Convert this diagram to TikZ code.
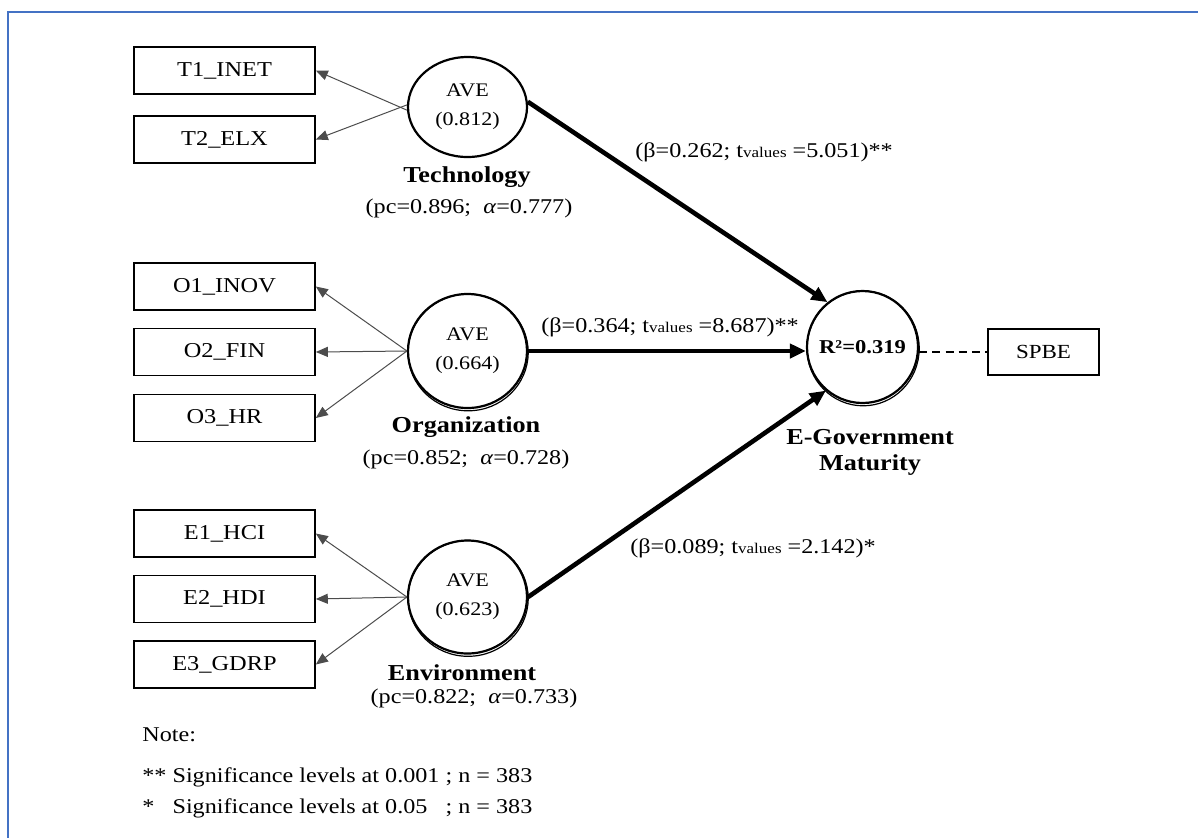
\documentclass[tikz,border=0pt]{standalone}
\usepackage{fontspec}
\setmainfont{Liberation Serif}[FakeStretch=1.15]
\usetikzlibrary{shapes.geometric,arrows.meta}
\definecolor{frameblue}{HTML}{4472C4}
\begin{document}
\begin{tikzpicture}[x=0.5pt,y=-0.5pt,
  obs/.style={draw, line width=0.8pt, minimum width=90.5pt, minimum height=23.5pt, inner sep=0pt, font=\fontsize{10.6}{12}\selectfont},
  lat/.style={ellipse, draw, line width=1.1pt, minimum width=59.5pt, minimum height=57pt, inner sep=0pt, align=center, font=\fontsize{9.6}{14.5}\selectfont},
  ld/.style={draw=black!70, line width=0.5pt, -{Triangle[length=6pt,width=5pt]}},
  pth/.style={line width=2.3pt, -{Triangle[length=8pt,width=7pt]}},
  cname/.style={font=\bfseries\fontsize{11.4}{14}\selectfont, align=center},
  stat/.style={font=\fontsize{10.5}{12}\selectfont, inner sep=0pt},
  ring/.style={line width=0.6pt}]
\useasboundingbox (0,0) rectangle (1198,837);
\begin{scope}
\clip (0,0) rectangle (1198,837);
\draw[frameblue, line width=1pt] (7.5,11.5) rectangle (1230,870);
\end{scope}

% indicators
\node[obs] (t1) at (224.5,70.5) {T1\_INET};
\node[obs] (t2) at (224.5,139.5) {T2\_ELX};
\node[obs] (o1) at (224.5,286.5) {O1\_INOV};
\node[obs] (o2) at (224.5,352) {O2\_FIN};
\node[obs] (o3) at (224.5,418) {O3\_HR};
\node[obs] (e1) at (224.5,533.5) {E1\_HCI};
\node[obs] (e2) at (224.5,599) {E2\_HDI};
\node[obs] (e3) at (224.5,664.5) {E3\_GDRP};
\node[obs, minimum width=55.5pt, minimum height=23pt, font=\fontsize{10}{12}\selectfont] (spbe) at (1043.5,352) {SPBE};

% latent constructs
\node[lat, minimum height=50pt] (tec) at (467.5,107) {AVE\\(0.812)};
\node[lat] (org) at (467.5,351) {AVE\\(0.664)};
\draw[ring] ([xshift=0.3pt,yshift=-0.7pt]org.center) ellipse [x radius=30.05pt, y radius=29.2pt];
\node[lat, minimum height=56.5pt] (env) at (467.5,597) {AVE\\(0.623)};
\draw[ring] ([xshift=0.3pt,yshift=-0.7pt]env.center) ellipse [x radius=30.05pt, y radius=28.95pt];
\node[lat, minimum width=55.5pt, minimum height=56pt, font=\bfseries\fontsize{9.8}{12}\selectfont] (egm) at (862.5,347) {\makebox[0pt]{R²=0.319}};
\draw[ring] ([xshift=0.3pt,yshift=-0.7pt]egm.center) ellipse [x radius=28.05pt, y radius=28.7pt];

% construct names
\node[cname] (tecn) at (467,177) {Technology};
\node[stat] (tecs) at (469,208) {(pc=0.896;\ \ \textit{α}=0.777)};
\node[cname] (orgn) at (466,427) {Organization};
\node[stat] (orgs) at (466,459) {(pc=0.852;\ \ \textit{α}=0.728)};
\node[cname] (envn) at (462,673) {Environment};
\node[stat] (envs) at (474,698) {(pc=0.822;\ \ \textit{α}=0.733)};
\node[cname] (egmn) at (870,437) {E-Government};
\node[cname] (egmm) at (870,465) {Maturity};

% loadings
\draw[ld] (tec.183) -- (t1.east);
\draw[ld] (tec.178) -- (t2.east);
\draw[ld] (org.west) -- (o1.east);
\draw[ld] (org.west) -- (o2.east);
\draw[ld] (org.west) -- (o3.east);
\draw[ld] (env.west) -- (e1.east);
\draw[ld] (env.west) -- (e2.east);
\draw[ld] (env.west) -- (e3.east);

% structural paths
\draw[pth] (tec.5) -- (egm.128);
\draw[pth] (org.east) -- (org.east -| egm.west);
\draw[pth] (env.east) -- (egm.230);
\draw[line width=0.8pt, dash pattern=on 4pt off 2.6pt] (spbe.west -| egm.east) -- (spbe.west);

% path labels
\node[stat, anchor=west] (b1) at (635,152) {(β=0.262; t{\fontsize{7.4}{8}\selectfont values} =5.051)**};
\node[stat, anchor=west] (b2) at (541,327) {(β=0.364; t{\fontsize{7.4}{8}\selectfont values} =8.687)**};
\node[stat, anchor=west] (b3) at (630,548) {(β=0.089; t{\fontsize{7.4}{8}\selectfont values} =2.142)*};

% note
\node[stat, anchor=west] (note) at (142,735) {Note:};
\node[stat, anchor=west] (sig1) at (142,777) {**\ Significance levels at 0.001\ ; n = 383};
\node[stat, anchor=west] (sig2) at (142,808) {\rlap{*}\phantom{**\ }\rlap{Significance levels at 0.05}\phantom{Significance levels at 0.001\ }; n = 383};
\end{tikzpicture}
\end{document}
